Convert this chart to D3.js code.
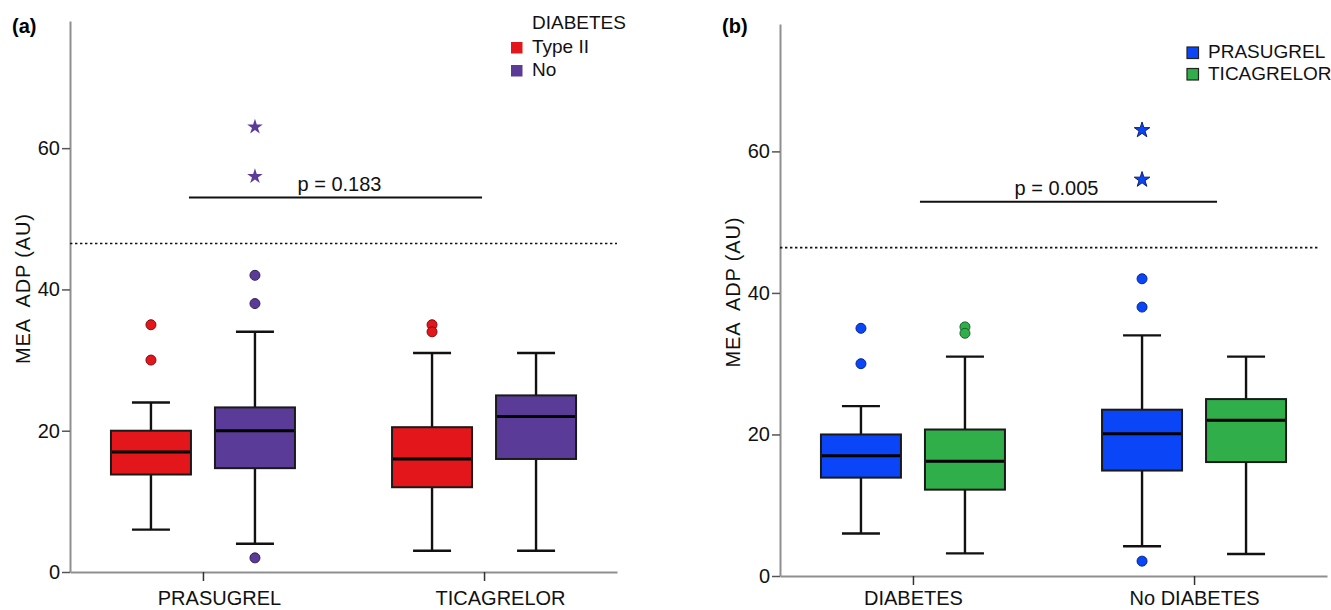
<!DOCTYPE html>
<html>
<head>
<meta charset="utf-8">
<title>MEA ADP by drug and diabetes</title>
<script src="https://cdn.jsdelivr.net/npm/d3@7"></script>
<style>
  body { margin: 0; background: #fff; }
  svg { display: block; font-family: "Liberation Sans", Arial, sans-serif; }
</style>
</head>
<body>
<svg id="chart" width="1331" height="610"></svg>
<script>
// ---- data ----
// panel (a): diabetes status within each drug
const drugs = ["PRASUGREL", "TICAGRELOR"];
const diabetesGroups = ["Type II", "No"];
// [category, group, low whisker, Q1, median, Q3, high whisker]
const boxesA = [
  ["PRASUGREL", "Type II", 6, 13.8, 17, 20, 24],
  ["PRASUGREL", "No", 4, 14.7, 20, 23.3, 34],
  ["TICAGRELOR", "Type II", 3, 12, 16, 20.5, 31],
  ["TICAGRELOR", "No", 3, 16, 22, 25, 31]
];
// [category, group, value, kind]  o = outlier, e = extreme
const outliersA = [
  ["PRASUGREL", "Type II", 35, "o"],
  ["PRASUGREL", "Type II", 30, "o"],
  ["PRASUGREL", "No", 42, "o"],
  ["PRASUGREL", "No", 38, "o"],
  ["PRASUGREL", "No", 2, "o"],
  ["PRASUGREL", "No", 63, "e"],
  ["PRASUGREL", "No", 56, "e"],
  ["TICAGRELOR", "Type II", 35, "o"],
  ["TICAGRELOR", "Type II", 34, "o"]
];

// panel (b): drug within diabetes status
const diabetesCats = ["DIABETES", "No DIABETES"];
const drugGroups = ["PRASUGREL", "TICAGRELOR"];
const boxesB = [
  ["DIABETES", "PRASUGREL", 6, 13.9, 17, 20, 24],
  ["DIABETES", "TICAGRELOR", 3.2, 12.2, 16.2, 20.7, 31],
  ["No DIABETES", "PRASUGREL", 4.2, 14.9, 20.1, 23.5, 34],
  ["No DIABETES", "TICAGRELOR", 3.1, 16.1, 22, 25, 31]
];
const outliersB = [
  ["DIABETES", "PRASUGREL", 35, "o"],
  ["DIABETES", "PRASUGREL", 30, "o"],
  ["DIABETES", "TICAGRELOR", 35.2, "o"],
  ["DIABETES", "TICAGRELOR", 34.3, "o"],
  ["No DIABETES", "PRASUGREL", 42, "o"],
  ["No DIABETES", "PRASUGREL", 38, "o"],
  ["No DIABETES", "PRASUGREL", 2.1, "o"],
  ["No DIABETES", "PRASUGREL", 63, "e"],
  ["No DIABETES", "PRASUGREL", 56, "e"]
];

const yTicks = [0, 20, 40, 60];
const cutoffA = 46.5, cutoffB = 46.4;   // dotted reference line
const pLevelA = 53, pLevelB = 52.9;     // comparison bar
const pTextA = "p = 0.183", pTextB = "p = 0.005";

// ---- drawing ----
const svg = d3.select("#chart");

function drawPanel(o) {
  const g = svg.append("g");
  const y = d3.scaleLinear().domain([0, 78]).range([o.bottom, o.top]);
  const x = d3.scalePoint().domain(o.cats).range([o.left, o.left + 547]).padding(0.473);
  const sub = d3.scalePoint().domain(o.groups).range([-52, 52]);
  const color = d3.scaleOrdinal().domain(o.groups).range(o.colors);
  const bw = 80, cap = 38;
  const cx = d => x(d[0]) + sub(d[1]);

  // y axis
  const ya = g.append("g")
    .attr("transform", `translate(${o.left},0)`)
    .call(d3.axisLeft(y).tickValues(yTicks).tickSize(8).tickSizeOuter(0).tickPadding(2));
  ya.select(".domain").attr("stroke", "#8f8f8f").attr("stroke-width", 2);
  ya.selectAll(".tick line").attr("stroke", "#555").attr("stroke-width", 1.5);
  ya.selectAll(".tick text").attr("font-size", 20).attr("fill", "#111")
    .attr("font-family", "Liberation Sans, Arial, sans-serif");

  // x axis
  const xa = g.append("g")
    .attr("transform", `translate(0,${o.bottom})`)
    .call(d3.axisBottom(x).tickSize(9).tickSizeOuter(0).tickPadding(605 - o.bottom - 9 - 14.2));
  xa.select(".domain").attr("stroke", "#8f8f8f").attr("stroke-width", 2);
  xa.selectAll(".tick line").attr("stroke", "#333").attr("stroke-width", 1.5);
  xa.selectAll(".tick text").attr("font-size", 20).attr("fill", "#111")
    .attr("dx", o.labelShift)
    .attr("font-family", "Liberation Sans, Arial, sans-serif");

  // axis title
  g.append("text")
    .attr("transform", `translate(${o.left - 40},${(o.top + o.bottom) / 2 - 7.5}) rotate(-90)`)
    .attr("text-anchor", "middle")
    .attr("font-size", 20)
    .attr("fill", "#111")
    .attr("xml:space", "preserve")
    .attr("textLength", 150)
    .attr("lengthAdjust", "spacing")
    .text("MEA  ADP (AU)");

  // panel letter
  g.append("text")
    .attr("x", o.left - 58).attr("y", 33)
    .attr("font-size", 20).attr("font-weight", "bold")
    .text(o.letter);

  // dotted cutoff line
  g.append("line")
    .attr("x1", o.left).attr("x2", o.left + o.dotEnd)
    .attr("y1", y(o.cutoff)).attr("y2", y(o.cutoff))
    .attr("stroke", "#111").attr("stroke-width", 1.6)
    .attr("stroke-dasharray", "2.4,2.6");

  // comparison bar with p value
  const px1 = x(o.cats[0]) + o.barFrom, px2 = x(o.cats[1]) + o.barTo;
  g.append("line")
    .attr("x1", px1).attr("x2", px2)
    .attr("y1", y(o.pLevel)).attr("y2", y(o.pLevel))
    .attr("stroke", "#111").attr("stroke-width", 2);
  g.append("text")
    .attr("x", (px1 + px2) / 2 + o.pShift).attr("y", y(o.pLevel) - 7)
    .attr("text-anchor", "middle").attr("font-size", 20).attr("fill", "#111")
    .text(o.pText);

  // whiskers
  const wk = g.append("g").attr("stroke", "#111").attr("stroke-width", 2.4);
  o.boxes.forEach(d => {
    const c = cx(d);
    wk.append("line").attr("x1", c).attr("x2", c).attr("y1", y(d[2])).attr("y2", y(d[3]));
    wk.append("line").attr("x1", c).attr("x2", c).attr("y1", y(d[5])).attr("y2", y(d[6]));
    wk.append("line").attr("x1", c - cap / 2).attr("x2", c + cap / 2).attr("y1", y(d[2])).attr("y2", y(d[2]));
    wk.append("line").attr("x1", c - cap / 2).attr("x2", c + cap / 2).attr("y1", y(d[6])).attr("y2", y(d[6]));
  });

  // boxes
  g.selectAll(".box").data(o.boxes).join("rect")
    .attr("class", "box")
    .attr("x", d => cx(d) - bw / 2)
    .attr("width", bw)
    .attr("y", d => y(d[5]))
    .attr("height", d => y(d[3]) - y(d[5]))
    .attr("fill", d => color(d[1]))
    .attr("stroke", "#1a1a1a").attr("stroke-width", 2);

  // medians
  g.selectAll(".med").data(o.boxes).join("line")
    .attr("class", "med")
    .attr("x1", d => cx(d) - bw / 2 + 1).attr("x2", d => cx(d) + bw / 2 - 1)
    .attr("y1", d => y(d[4])).attr("y2", d => y(d[4]))
    .attr("stroke", "#000").attr("stroke-width", 3);

  // outliers
  g.selectAll(".out").data(o.outliers.filter(d => d[3] === "o")).join("circle")
    .attr("class", "out")
    .attr("cx", cx).attr("cy", d => y(d[2])).attr("r", 5)
    .attr("fill", d => color(d[1]))
    .attr("stroke", d => d3.color(color(d[1])).darker(1.6)).attr("stroke-width", 1);

  const star = d3.symbol(d3.symbolStar).size(75);
  g.selectAll(".ext").data(o.outliers.filter(d => d[3] === "e")).join("path")
    .attr("class", "ext")
    .attr("transform", d => `translate(${cx(d)},${y(d[2])})`)
    .attr("d", star)
    .attr("fill", d => color(d[1]))
    .attr("stroke", o.starStroke).attr("stroke-width", 1);

  // legend
  const lg = g.append("g").attr("transform", `translate(${o.legX},${o.legY})`);
  if (o.legTitle) {
    lg.append("text").attr("x", 21).attr("y", -13).attr("font-size", 19).attr("fill", "#111")
      .text(o.legTitle);
  }
  o.groups.forEach((k, i) => {
    lg.append("rect")
      .attr("x", 0).attr("y", i * o.legGap)
      .attr("width", o.legBox).attr("height", o.legBox)
      .attr("fill", color(k))
      .attr("stroke", o.legStroke).attr("stroke-width", 1.2);
    lg.append("text")
      .attr("x", o.legBox + 9.5).attr("y", i * o.legGap + o.legBox - 0.5)
      .attr("font-size", 19).attr("fill", "#111")
      .text(k);
  });
}

drawPanel({
  letter: "(a)", left: 70, top: 21, bottom: 572,
  cats: drugs, groups: diabetesGroups, colors: ["#e3161b", "#5a3c98"],
  boxes: boxesA, outliers: outliersA,
  cutoff: cutoffA, pLevel: pLevelA, pText: pTextA,
  barFrom: -14, barTo: -2, pShift: 4, dotEnd: 547, labelShift: 16,
  starStroke: "none",
  legX: 511, legY: 42, legTitle: "DIABETES", legBox: 11.5, legGap: 23,
  legStroke: "none"
});

drawPanel({
  letter: "(b)", left: 780, top: 24, bottom: 576,
  cats: diabetesCats, groups: drugGroups, colors: ["#0a46f7", "#2fae49"],
  boxes: boxesB, outliers: outliersB,
  cutoff: cutoffB, pLevel: pLevelB, pText: pTextB,
  barFrom: 7, barTo: 23, pShift: -12, dotEnd: 538, labelShift: 0,
  starStroke: "#10206a",
  legX: 1187, legY: 47, legTitle: null, legBox: 11.5, legGap: 21.5,
  legStroke: "#222"
});
</script>
</body>
</html>
